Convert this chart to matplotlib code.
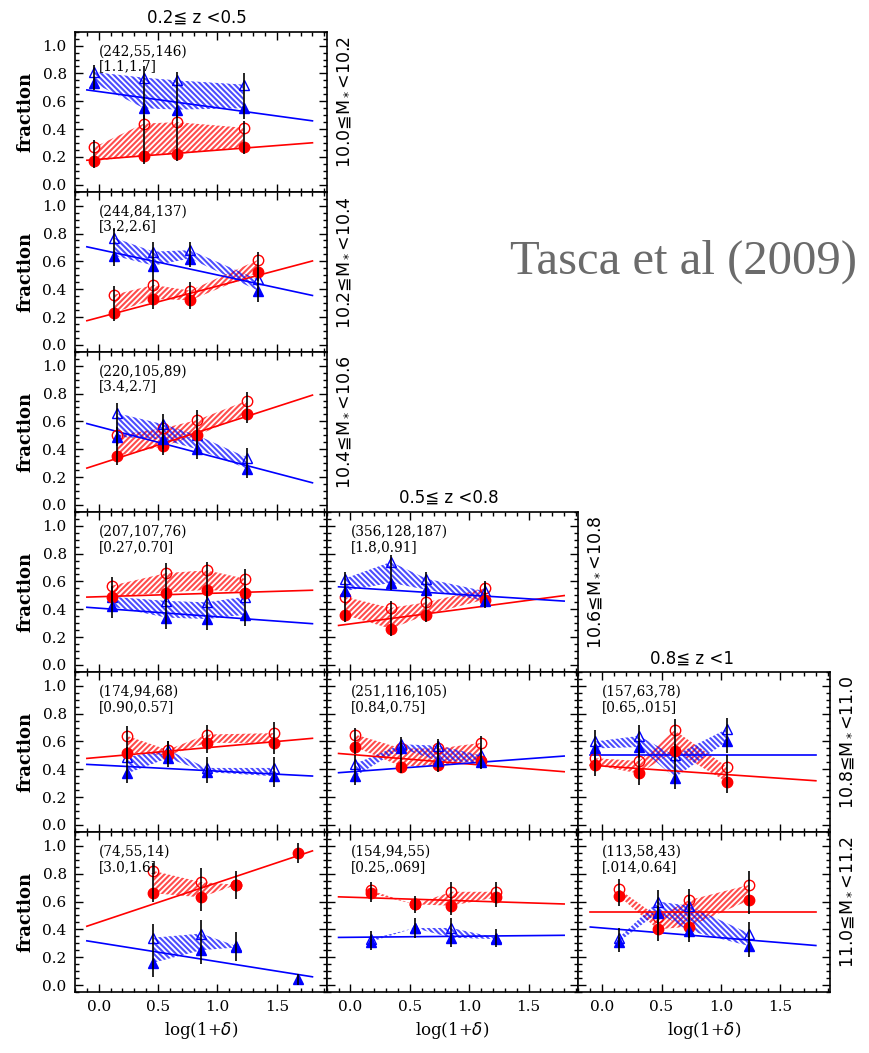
import numpy as np
import matplotlib.pyplot as plt
from matplotlib.ticker import MultipleLocator

nan = np.nan

# grid position (row, col) of each panel, top to bottom, left to right
panel_pos = [(0, 0), (1, 0), (2, 0), (3, 0), (3, 1), (4, 0), (4, 1), (4, 2),
             (5, 0), (5, 1), (5, 2)]

counts = ["(242,55,146)", "(244,84,137)", "(220,105,89)", "(207,107,76)",
          "(356,128,187)", "(174,94,68)", "(251,116,105)", "(157,63,78)",
          "(74,55,14)", "(154,94,55)", "(113,58,43)"]
signif = ["[1.1,1.7]", "[3.2,2.6]", "[3.4,2.7]", "[0.27,0.70]", "[1.8,0.91]",
          "[0.90,0.57]", "[0.84,0.75]", "[0.65,.015]", "[3.0,1.6]",
          "[0.25,.069]", "[.014,0.64]"]

z_bins = ["0.2≦ z <0.5", "0.5≦ z <0.8", "0.8≦ z <1"]
mass_bins = ["10.0≦M$_*$<10.2", "10.2≦M$_*$<10.4", "10.4≦M$_*$<10.6",
             "10.6≦M$_*$<10.8", "10.8≦M$_*$<11.0", "11.0≦M$_*$<11.2"]

log_delta = [[-0.04, 0.38, 0.66, 1.22], [0.13, 0.46, 0.77, 1.34],
             [0.15, 0.54, 0.83, 1.25], [0.11, 0.57, 0.91, 1.23],
             [-0.05, 0.34, 0.64, 1.13], [0.24, 0.58, 0.91, 1.48],
             [0.04, 0.43, 0.74, 1.10], [-0.06, 0.31, 0.61, 1.05],
             [0.46, 0.86, 1.16, 1.68], [0.17, 0.54, 0.85, 1.23],
             [0.14, 0.47, 0.73, 1.24]]

red_filled = [[0.17, 0.21, 0.22, 0.27], [0.23, 0.33, 0.32, 0.52],
              [0.35, 0.42, 0.50, 0.65], [0.49, 0.52, 0.54, 0.52],
              [0.36, 0.26, 0.36, 0.47], [0.52, 0.50, 0.59, 0.59],
              [0.56, 0.42, 0.43, 0.46], [0.43, 0.37, 0.53, 0.31],
              [0.66, 0.63, 0.72, 0.95], [0.66, 0.58, 0.57, 0.63],
              [0.64, 0.40, 0.42, 0.61]]
red_open = [[0.27, 0.44, 0.45, 0.41], [0.36, 0.43, 0.39, 0.61],
            [0.50, 0.55, 0.61, 0.75], [0.57, 0.66, 0.68, 0.62],
            [0.49, 0.41, 0.45, 0.55], [0.64, 0.54, 0.65, 0.66],
            [0.65, 0.55, 0.55, 0.59], [0.48, 0.46, 0.68, 0.42],
            [0.82, 0.74, 0.72, nan], [0.68, 0.58, 0.67, 0.67],
            [0.69, 0.49, 0.61, 0.72]]
blue_filled = [[0.73, 0.55, 0.54, 0.55], [0.64, 0.57, 0.62, 0.39],
               [0.49, 0.47, 0.40, 0.26], [0.42, 0.34, 0.33, 0.36],
               [0.53, 0.59, 0.54, 0.46], [0.37, 0.48, 0.38, 0.35],
               [0.35, 0.55, 0.46, 0.45], [0.55, 0.56, 0.34, 0.60],
               [0.16, 0.25, 0.27, 0.04], [0.31, 0.41, 0.34, 0.33],
               [0.31, 0.52, 0.39, 0.28]]
blue_open = [[0.81, 0.77, 0.75, 0.72], [0.77, 0.67, 0.68, 0.47],
             [0.66, 0.58, 0.50, 0.34], [0.49, 0.46, 0.45, 0.49],
             [0.62, 0.74, 0.62, 0.53], [0.49, 0.54, 0.41, 0.41],
             [0.44, 0.58, 0.57, 0.50], [0.60, 0.64, 0.50, 0.69],
             [0.34, 0.37, 0.28, nan], [0.33, 0.41, 0.41, 0.34],
             [0.34, 0.60, 0.57, 0.37]]

red_err = [[0.05, 0.06, 0.05, 0.05], [0.06, 0.07, 0.06, 0.06],
           [0.06, 0.06, 0.07, 0.06], [0.06, 0.07, 0.06, 0.07],
           [0.05, 0.05, 0.05, 0.05], [0.07, 0.06, 0.07, 0.08],
           [0.05, 0.05, 0.05, 0.05], [0.08, 0.08, 0.08, 0.08],
           [0.06, 0.10, 0.10, 0.07], [0.06, 0.06, 0.07, 0.07],
           [0.07, 0.08, 0.08, 0.10]]
blue_err = [[0.05, 0.08, 0.06, 0.08], [0.07, 0.07, 0.06, 0.08],
            [0.07, 0.07, 0.07, 0.07], [0.08, 0.08, 0.08, 0.08],
            [0.05, 0.05, 0.05, 0.05], [0.07, 0.06, 0.08, 0.08],
            [0.06, 0.05, 0.05, 0.05], [0.08, 0.08, 0.08, 0.08],
            [0.10, 0.10, 0.10, 0.04], [0.06, 0.07, 0.07, 0.06],
            [0.07, 0.08, 0.08, 0.08]]

# linear fits: (intercept, slope)
red_fit = [(0.183, 0.066), (0.196, 0.226), (0.292, 0.276), (0.490, 0.026),
           (0.295, 0.113), (0.486, 0.076), (0.507, -0.069), (0.424, -0.059),
           (0.451, 0.285), (0.631, -0.027), (0.523, 0.0)]
blue_fit = [(0.670, -0.117), (0.686, -0.184), (0.562, -0.224), (0.408, -0.062),
            (0.556, -0.054), (0.431, -0.044), (0.382, 0.063), (0.500, 0.0),
            (0.304, -0.136), (0.343, 0.008), (0.410, -0.070)]
fit_range = [-0.1, 1.8]

RED = '#ff0000'
BLUE = '#0000ff'
W, H = 869, 1053
left0, top0, pw, ph = 75, 31.7, 251.7, 160.05

plt.rcParams['hatch.linewidth'] = 1.5
fig = plt.figure(figsize=(W / 100, H / 100), dpi=100)


def draw_group(ax, x, filled, opened, err, fit, color, marker, hatch):
    x = np.array(x)
    filled = np.array(filled)
    opened = np.array(opened)
    err = np.array(err)
    ok = np.isfinite(opened)
    ax.fill_between(x[ok], filled[ok], opened[ok], facecolor='none',
                    edgecolor=color, linewidth=0, hatch=hatch, alpha=0.7, zorder=1)
    xf = np.array(fit_range)
    ax.plot(xf, fit[0] + fit[1] * xf, color=color, lw=1.2, zorder=2)
    lo = np.fmin(filled, opened) - err
    hi = np.fmax(filled, opened) + err
    ax.vlines(x, lo, hi, color='black', lw=1.2, zorder=5)
    ax.plot(x, opened, marker, ms=7.5, mfc='none', mec=color, mew=1.0, ls='none', zorder=3)
    ax.plot(x, filled, marker, ms=7.5, color=color, ls='none', zorder=4)


for i, (r, c) in enumerate(panel_pos):
    left = (left0 + c * pw) / W
    bottom = (H - (top0 + (r + 1) * ph)) / H
    ax = fig.add_axes([left, bottom, pw / W, ph / H])

    draw_group(ax, log_delta[i], red_filled[i], red_open[i], red_err[i],
               red_fit[i], RED, 'o', '//////')
    draw_group(ax, log_delta[i], blue_filled[i], blue_open[i], blue_err[i],
               blue_fit[i], BLUE, '^', '\\\\\\\\\\\\')

    ax.set_xlim(-0.2, 1.92)
    ax.set_ylim(-0.05, 1.1)
    ax.xaxis.set_major_locator(MultipleLocator(0.5))
    ax.xaxis.set_minor_locator(MultipleLocator(0.1))
    ax.yaxis.set_major_locator(MultipleLocator(0.2))
    ax.yaxis.set_minor_locator(MultipleLocator(0.05))
    ax.tick_params(which='both', direction='in', top=True, right=True, width=1.0)
    ax.tick_params(which='major', length=6, pad=6)
    ax.tick_params(which='minor', length=3)
    for sp in ax.spines.values():
        sp.set_linewidth(1.2)

    for lab in ax.get_xticklabels() + ax.get_yticklabels():
        lab.set_family('DejaVu Serif')
        lab.set_fontsize(11)

    if c == 0:
        ax.set_ylabel('fraction', family='DejaVu Serif', fontweight='bold',
                      fontsize=13, labelpad=6)
    else:
        ax.set_yticklabels([])
    if r == 5:
        ax.set_xlabel('log(1+$\\delta$)', family='DejaVu Serif', fontsize=12, labelpad=4)
    else:
        ax.set_xticklabels([])

    ax.text(0.0, 0.96, counts[i], family='DejaVu Serif', fontsize=9.8,
            ha='left', va='center')
    ax.text(0.0, 0.85, signif[i], family='DejaVu Serif', fontsize=9.8,
            ha='left', va='center')

    # redshift title on the top panel of each column
    if (c, r) in [(0, 0), (1, 3), (2, 4)]:
        ax.text(72 / pw, 1.03, z_bins[c], transform=ax.transAxes, fontsize=12,
                ha='left', va='bottom')
    # mass bin label on the right-most panel of each row
    if (r, c) in [(0, 0), (1, 0), (2, 0), (3, 1), (4, 2), (5, 2)]:
        ax.text(1.03, 0.56, mass_bins[r], transform=ax.transAxes, fontsize=12.5,
                rotation=90, ha='left', va='center')

fig.text(510 / W, 1 - 262 / H, 'Tasca et al (2009)', family='Liberation Serif',
         fontsize=35, color='#6b6b6b', ha='left', va='center')

fig.savefig('out.png', dpi=100)
